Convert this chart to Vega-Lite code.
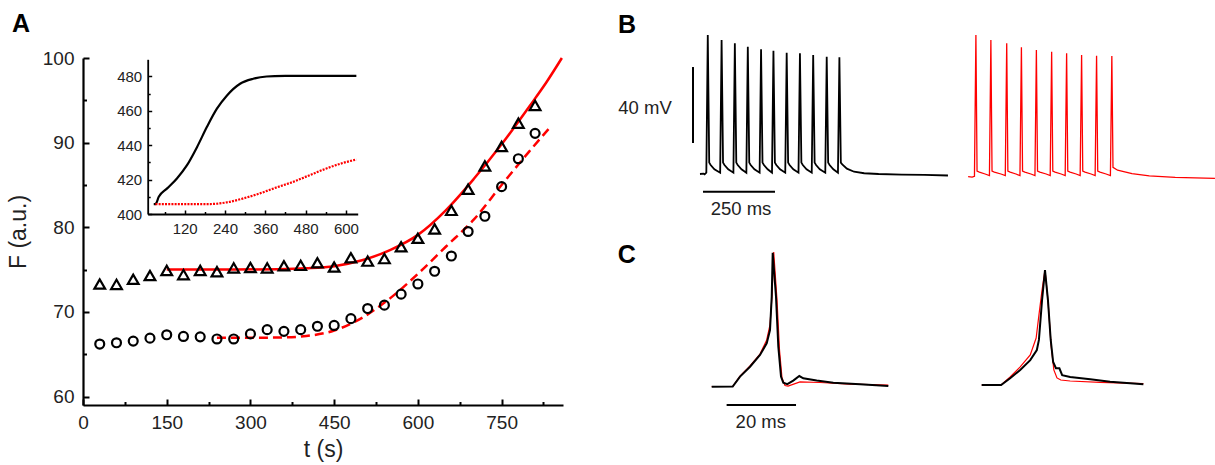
{
  "$schema": "https://vega.github.io/schema/vega-lite/v6.json",
  "width": 1215,
  "height": 465,
  "autosize": {"type": "none"},
  "padding": 0,
  "background": "white",
  "config": {
    "font": "Liberation Sans",
    "view": {"stroke": null},
    "axis": {"grid": false, "domainColor": "black", "tickColor": "black", "labelColor": "#222", "titleColor": "#222", "titleFontWeight": "normal", "labelFont": "Liberation Sans", "titleFont": "Liberation Sans"}
  },
  "datasets": {
    "fluor_tri": [
      {"t": 30, "F": 73.3}, {"t": 60, "F": 73.25}, {"t": 90, "F": 73.85}, {"t": 120, "F": 74.3}, {"t": 150, "F": 74.9},
      {"t": 180, "F": 74.4}, {"t": 210, "F": 74.9}, {"t": 240, "F": 74.75}, {"t": 270, "F": 75.2}, {"t": 300, "F": 75.25},
      {"t": 330, "F": 75.2}, {"t": 360, "F": 75.45}, {"t": 390, "F": 75.5}, {"t": 420, "F": 75.8}, {"t": 450, "F": 75.3},
      {"t": 480, "F": 76.4}, {"t": 510, "F": 76.0}, {"t": 540, "F": 76.3}, {"t": 570, "F": 77.7}, {"t": 600, "F": 78.7},
      {"t": 630, "F": 79.8}, {"t": 660, "F": 82.0}, {"t": 690, "F": 84.5}, {"t": 720, "F": 87.25}, {"t": 750, "F": 89.55},
      {"t": 780, "F": 92.3}, {"t": 810, "F": 94.4}
    ],
    "fluor_circ": [
      {"t": 30, "F": 66.2}, {"t": 60, "F": 66.35}, {"t": 90, "F": 66.55}, {"t": 120, "F": 66.9}, {"t": 150, "F": 67.3},
      {"t": 180, "F": 67.1}, {"t": 210, "F": 67.05}, {"t": 240, "F": 66.8}, {"t": 270, "F": 66.8}, {"t": 300, "F": 67.4},
      {"t": 330, "F": 67.9}, {"t": 360, "F": 67.7}, {"t": 390, "F": 67.9}, {"t": 420, "F": 68.3}, {"t": 450, "F": 68.4},
      {"t": 480, "F": 69.2}, {"t": 510, "F": 70.4}, {"t": 540, "F": 70.8}, {"t": 570, "F": 72.1}, {"t": 600, "F": 73.3},
      {"t": 630, "F": 74.8}, {"t": 660, "F": 76.6}, {"t": 690, "F": 79.5}, {"t": 720, "F": 81.3}, {"t": 750, "F": 84.8},
      {"t": 780, "F": 88.1}, {"t": 810, "F": 91.1}
    ],
    "fit_solid": [
      {"t": 150, "F": 75.0}, {"t": 250, "F": 75.0}, {"t": 350, "F": 75.05}, {"t": 400, "F": 75.15}, {"t": 450, "F": 75.4},
      {"t": 500, "F": 76.1}, {"t": 550, "F": 77.3}, {"t": 600, "F": 79.1}, {"t": 650, "F": 82.0}, {"t": 700, "F": 85.7},
      {"t": 750, "F": 89.8}, {"t": 800, "F": 94.3}, {"t": 830, "F": 97.1}, {"t": 858, "F": 100}
    ],
    "fit_dashed": [
      {"t": 240, "F": 66.95}, {"t": 300, "F": 66.95}, {"t": 350, "F": 66.97}, {"t": 400, "F": 67.15}, {"t": 450, "F": 67.8},
      {"t": 500, "F": 69.3}, {"t": 550, "F": 71.6}, {"t": 600, "F": 74.5}, {"t": 650, "F": 77.7}, {"t": 700, "F": 80.9},
      {"t": 750, "F": 85.0}, {"t": 800, "F": 89.0}, {"t": 834, "F": 91.6}
    ],
    "inset_black": [
      {"t": 28, "F": 405.8}, {"t": 33, "F": 405.8}, {"t": 43, "F": 410}, {"t": 68, "F": 414.9}, {"t": 97, "F": 420.7},
      {"t": 127, "F": 428.4}, {"t": 157, "F": 439}, {"t": 186, "F": 450.6}, {"t": 216, "F": 461.3}, {"t": 246, "F": 469},
      {"t": 285, "F": 475.8}, {"t": 324, "F": 478.7}, {"t": 364, "F": 480}, {"t": 420, "F": 480.3}, {"t": 500, "F": 480.4},
      {"t": 631, "F": 480.4}
    ],
    "inset_red": [
      {"t": 33, "F": 405.8}, {"t": 100, "F": 405.8}, {"t": 196, "F": 405.8}, {"t": 246, "F": 406.8}, {"t": 295, "F": 409.1},
      {"t": 344, "F": 412}, {"t": 394, "F": 415.5}, {"t": 443, "F": 418.7}, {"t": 492, "F": 422.6}, {"t": 542, "F": 426.5},
      {"t": 591, "F": 429.7}, {"t": 631, "F": 431.7}
    ],
    "trainB": [
      {"t_ms": 0, "mV": -65, "source": "recorded"}, {"t_ms": 12, "mV": -64.8, "source": "recorded"}, {"t_ms": 16, "mV": -65.2, "source": "recorded"},
      {"t_ms": 22, "mV": -64.3, "source": "recorded"}, {"t_ms": 27, "mV": 8.2, "source": "recorded"}, {"t_ms": 32, "mV": -59, "source": "recorded"},
      {"t_ms": 37, "mV": -60.3, "source": "recorded"}, {"t_ms": 50, "mV": -62.5, "source": "recorded"}, {"t_ms": 70, "mV": -64.3, "source": "recorded"},
      {"t_ms": 75, "mV": 5.5, "source": "recorded"}, {"t_ms": 80, "mV": -59, "source": "recorded"}, {"t_ms": 85, "mV": -60.3, "source": "recorded"},
      {"t_ms": 98, "mV": -62.5, "source": "recorded"}, {"t_ms": 116, "mV": -64.3, "source": "recorded"}, {"t_ms": 121, "mV": 3.8, "source": "recorded"},
      {"t_ms": 126, "mV": -59, "source": "recorded"}, {"t_ms": 131, "mV": -60.3, "source": "recorded"}, {"t_ms": 144, "mV": -62.5, "source": "recorded"},
      {"t_ms": 161, "mV": -64.3, "source": "recorded"}, {"t_ms": 166, "mV": 2.0, "source": "recorded"}, {"t_ms": 171, "mV": -59, "source": "recorded"},
      {"t_ms": 176, "mV": -60.3, "source": "recorded"}, {"t_ms": 189, "mV": -62.5, "source": "recorded"}, {"t_ms": 207, "mV": -64.3, "source": "recorded"},
      {"t_ms": 212, "mV": 0.6, "source": "recorded"}, {"t_ms": 217, "mV": -59, "source": "recorded"}, {"t_ms": 222, "mV": -60.3, "source": "recorded"},
      {"t_ms": 235, "mV": -62.5, "source": "recorded"}, {"t_ms": 250, "mV": -64.3, "source": "recorded"}, {"t_ms": 255, "mV": -0.1, "source": "recorded"},
      {"t_ms": 260, "mV": -59, "source": "recorded"}, {"t_ms": 265, "mV": -60.3, "source": "recorded"}, {"t_ms": 278, "mV": -62.5, "source": "recorded"},
      {"t_ms": 296, "mV": -64.3, "source": "recorded"}, {"t_ms": 301, "mV": -1.2, "source": "recorded"}, {"t_ms": 306, "mV": -59, "source": "recorded"},
      {"t_ms": 311, "mV": -60.3, "source": "recorded"}, {"t_ms": 324, "mV": -62.5, "source": "recorded"}, {"t_ms": 342, "mV": -64.3, "source": "recorded"},
      {"t_ms": 347, "mV": -1.5, "source": "recorded"}, {"t_ms": 352, "mV": -59, "source": "recorded"}, {"t_ms": 357, "mV": -60.3, "source": "recorded"},
      {"t_ms": 370, "mV": -62.5, "source": "recorded"}, {"t_ms": 388, "mV": -64.3, "source": "recorded"}, {"t_ms": 393, "mV": -2.4, "source": "recorded"},
      {"t_ms": 398, "mV": -59, "source": "recorded"}, {"t_ms": 403, "mV": -60.3, "source": "recorded"}, {"t_ms": 416, "mV": -62.5, "source": "recorded"},
      {"t_ms": 435, "mV": -64.3, "source": "recorded"}, {"t_ms": 440, "mV": -3.3, "source": "recorded"}, {"t_ms": 445, "mV": -59, "source": "recorded"},
      {"t_ms": 450, "mV": -60.3, "source": "recorded"}, {"t_ms": 463, "mV": -62.5, "source": "recorded"}, {"t_ms": 479, "mV": -64.3, "source": "recorded"},
      {"t_ms": 484, "mV": -3.6, "source": "recorded"}, {"t_ms": 489, "mV": -59, "source": "recorded"}, {"t_ms": 494, "mV": -60, "source": "recorded"},
      {"t_ms": 510, "mV": -62.2, "source": "recorded"}, {"t_ms": 535, "mV": -63.8, "source": "recorded"}, {"t_ms": 570, "mV": -64.6, "source": "recorded"},
      {"t_ms": 620, "mV": -65, "source": "recorded"}, {"t_ms": 700, "mV": -65.3, "source": "recorded"}, {"t_ms": 780, "mV": -65.5, "source": "recorded"},
      {"t_ms": 861, "mV": -65.8, "source": "recorded"},
      {"t_ms": 931, "mV": -66.4, "source": "simulated"}, {"t_ms": 945, "mV": -66.6, "source": "simulated"}, {"t_ms": 953, "mV": -66.2, "source": "simulated"},
      {"t_ms": 958, "mV": 8.2, "source": "simulated"}, {"t_ms": 962, "mV": -63.5, "source": "simulated"}, {"t_ms": 970, "mV": -64, "source": "simulated"},
      {"t_ms": 990, "mV": -65, "source": "simulated"}, {"t_ms": 1005, "mV": -65.8, "source": "simulated"}, {"t_ms": 1010, "mV": 5.5, "source": "simulated"},
      {"t_ms": 1014, "mV": -63.5, "source": "simulated"}, {"t_ms": 1022, "mV": -64, "source": "simulated"}, {"t_ms": 1045, "mV": -65, "source": "simulated"},
      {"t_ms": 1060, "mV": -65.8, "source": "simulated"}, {"t_ms": 1065, "mV": 3.8, "source": "simulated"}, {"t_ms": 1069, "mV": -63.5, "source": "simulated"},
      {"t_ms": 1077, "mV": -64, "source": "simulated"}, {"t_ms": 1097, "mV": -65, "source": "simulated"}, {"t_ms": 1111, "mV": -65.8, "source": "simulated"},
      {"t_ms": 1116, "mV": 1.7, "source": "simulated"}, {"t_ms": 1120, "mV": -63.5, "source": "simulated"}, {"t_ms": 1128, "mV": -64, "source": "simulated"},
      {"t_ms": 1149, "mV": -65, "source": "simulated"}, {"t_ms": 1163, "mV": -65.8, "source": "simulated"}, {"t_ms": 1168, "mV": 0.3, "source": "simulated"},
      {"t_ms": 1172, "mV": -63.5, "source": "simulated"}, {"t_ms": 1180, "mV": -64, "source": "simulated"}, {"t_ms": 1202, "mV": -65, "source": "simulated"},
      {"t_ms": 1216, "mV": -65.8, "source": "simulated"}, {"t_ms": 1221, "mV": -0.6, "source": "simulated"}, {"t_ms": 1225, "mV": -63.5, "source": "simulated"},
      {"t_ms": 1233, "mV": -64, "source": "simulated"}, {"t_ms": 1254, "mV": -65, "source": "simulated"}, {"t_ms": 1268, "mV": -65.8, "source": "simulated"},
      {"t_ms": 1273, "mV": -1.5, "source": "simulated"}, {"t_ms": 1277, "mV": -63.5, "source": "simulated"}, {"t_ms": 1285, "mV": -64, "source": "simulated"},
      {"t_ms": 1306, "mV": -65, "source": "simulated"}, {"t_ms": 1320, "mV": -65.8, "source": "simulated"}, {"t_ms": 1325, "mV": -2.4, "source": "simulated"},
      {"t_ms": 1329, "mV": -63.5, "source": "simulated"}, {"t_ms": 1337, "mV": -64, "source": "simulated"}, {"t_ms": 1358, "mV": -65, "source": "simulated"},
      {"t_ms": 1372, "mV": -65.8, "source": "simulated"}, {"t_ms": 1377, "mV": -2.8, "source": "simulated"}, {"t_ms": 1381, "mV": -63.5, "source": "simulated"},
      {"t_ms": 1389, "mV": -64, "source": "simulated"}, {"t_ms": 1410, "mV": -65, "source": "simulated"}, {"t_ms": 1425, "mV": -65.8, "source": "simulated"},
      {"t_ms": 1430, "mV": -2.9, "source": "simulated"}, {"t_ms": 1434, "mV": -61.5, "source": "simulated"}, {"t_ms": 1450, "mV": -63, "source": "simulated"},
      {"t_ms": 1500, "mV": -64.8, "source": "simulated"}, {"t_ms": 1560, "mV": -66, "source": "simulated"}, {"t_ms": 1650, "mV": -66.8, "source": "simulated"},
      {"t_ms": 1788, "mV": -67.3, "source": "simulated"}
    ],
    "apC": [
      {"t_ms": 0, "mV": -65, "source": "simulated", "cell": "left"}, {"t_ms": 6.05, "mV": -65, "source": "simulated", "cell": "left"},
      {"t_ms": 8.16, "mV": -59.5, "source": "simulated", "cell": "left"}, {"t_ms": 11.04, "mV": -54.2, "source": "simulated", "cell": "left"},
      {"t_ms": 13.92, "mV": -47.9, "source": "simulated", "cell": "left"}, {"t_ms": 15.85, "mV": -40.5, "source": "simulated", "cell": "left"},
      {"t_ms": 16.8, "mV": -32.6, "source": "simulated", "cell": "left"}, {"t_ms": 17.4, "mV": -16.8, "source": "simulated", "cell": "left"},
      {"t_ms": 17.87, "mV": 5.8, "source": "simulated", "cell": "left"}, {"t_ms": 18.82, "mV": -19.5, "source": "simulated", "cell": "left"},
      {"t_ms": 19.54, "mV": -45.8, "source": "simulated", "cell": "left"}, {"t_ms": 20.26, "mV": -60.5, "source": "simulated", "cell": "left"},
      {"t_ms": 21.12, "mV": -64.5, "source": "simulated", "cell": "left"}, {"t_ms": 22.0, "mV": -64.8, "source": "simulated", "cell": "left"},
      {"t_ms": 25.45, "mV": -62.6, "source": "simulated", "cell": "left"}, {"t_ms": 31.2, "mV": -62.9, "source": "simulated", "cell": "left"},
      {"t_ms": 39.86, "mV": -63.7, "source": "simulated", "cell": "left"}, {"t_ms": 50.9, "mV": -64.2, "source": "simulated", "cell": "left"},
      {"t_ms": 77.8, "mV": -64.2, "source": "simulated", "cell": "right"}, {"t_ms": 83.4, "mV": -64.2, "source": "simulated", "cell": "right"},
      {"t_ms": 86.0, "mV": -60, "source": "simulated", "cell": "right"}, {"t_ms": 88.9, "mV": -54.7, "source": "simulated", "cell": "right"},
      {"t_ms": 91.8, "mV": -48.4, "source": "simulated", "cell": "right"}, {"t_ms": 93.5, "mV": -39.5, "source": "simulated", "cell": "right"},
      {"t_ms": 94.3, "mV": -27.4, "source": "simulated", "cell": "right"}, {"t_ms": 95.2, "mV": -14.2, "source": "simulated", "cell": "right"},
      {"t_ms": 96.05, "mV": -3.7, "source": "simulated", "cell": "right"}, {"t_ms": 96.9, "mV": -19.5, "source": "simulated", "cell": "right"},
      {"t_ms": 97.8, "mV": -43.2, "source": "simulated", "cell": "right"}, {"t_ms": 98.6, "mV": -56.3, "source": "simulated", "cell": "right"},
      {"t_ms": 99.5, "mV": -60.5, "source": "simulated", "cell": "right"}, {"t_ms": 100.6, "mV": -61.6, "source": "simulated", "cell": "right"},
      {"t_ms": 103.3, "mV": -62.1, "source": "simulated", "cell": "right"}, {"t_ms": 111.9, "mV": -62.8, "source": "simulated", "cell": "right"},
      {"t_ms": 124.4, "mV": -63.5, "source": "simulated", "cell": "right"},
      {"t_ms": 0, "mV": -65.1, "source": "recorded", "cell": "left"}, {"t_ms": 6.05, "mV": -65, "source": "recorded", "cell": "left"},
      {"t_ms": 8.16, "mV": -59.8, "source": "recorded", "cell": "left"}, {"t_ms": 11.04, "mV": -54.6, "source": "recorded", "cell": "left"},
      {"t_ms": 13.92, "mV": -48.4, "source": "recorded", "cell": "left"}, {"t_ms": 15.85, "mV": -42.3, "source": "recorded", "cell": "left"},
      {"t_ms": 16.8, "mV": -35.3, "source": "recorded", "cell": "left"}, {"t_ms": 17.3, "mV": -17.7, "source": "recorded", "cell": "left"},
      {"t_ms": 17.58, "mV": 5.4, "source": "recorded", "cell": "left"}, {"t_ms": 18.53, "mV": -17.7, "source": "recorded", "cell": "left"},
      {"t_ms": 19.2, "mV": -44.1, "source": "recorded", "cell": "left"}, {"t_ms": 19.97, "mV": -59.8, "source": "recorded", "cell": "left"},
      {"t_ms": 20.63, "mV": -63, "source": "recorded", "cell": "left"}, {"t_ms": 21.79, "mV": -63.8, "source": "recorded", "cell": "left"},
      {"t_ms": 23.5, "mV": -61.9, "source": "recorded", "cell": "left"}, {"t_ms": 25.25, "mV": -59.5, "source": "recorded", "cell": "left"},
      {"t_ms": 26.4, "mV": -60.7, "source": "recorded", "cell": "left"}, {"t_ms": 30.26, "mV": -61.9, "source": "recorded", "cell": "left"},
      {"t_ms": 35.04, "mV": -63, "source": "recorded", "cell": "left"}, {"t_ms": 42.74, "mV": -63.8, "source": "recorded", "cell": "left"},
      {"t_ms": 50.9, "mV": -64.7, "source": "recorded", "cell": "left"},
      {"t_ms": 77.8, "mV": -64.2, "source": "recorded", "cell": "right"}, {"t_ms": 83.4, "mV": -64.2, "source": "recorded", "cell": "right"},
      {"t_ms": 86.0, "mV": -60.7, "source": "recorded", "cell": "right"}, {"t_ms": 88.9, "mV": -56.3, "source": "recorded", "cell": "right"},
      {"t_ms": 91.8, "mV": -51.1, "source": "recorded", "cell": "right"}, {"t_ms": 93.7, "mV": -45.8, "source": "recorded", "cell": "right"},
      {"t_ms": 94.3, "mV": -40.5, "source": "recorded", "cell": "right"}, {"t_ms": 95.2, "mV": -19.5, "source": "recorded", "cell": "right"},
      {"t_ms": 96.05, "mV": -3.7, "source": "recorded", "cell": "right"}, {"t_ms": 96.9, "mV": -19.5, "source": "recorded", "cell": "right"},
      {"t_ms": 97.7, "mV": -40.5, "source": "recorded", "cell": "right"}, {"t_ms": 98.4, "mV": -52.1, "source": "recorded", "cell": "right"},
      {"t_ms": 99.2, "mV": -55.4, "source": "recorded", "cell": "right"}, {"t_ms": 100.2, "mV": -55.4, "source": "recorded", "cell": "right"},
      {"t_ms": 101, "mV": -59, "source": "recorded", "cell": "right"}, {"t_ms": 103.3, "mV": -60, "source": "recorded", "cell": "right"},
      {"t_ms": 109.1, "mV": -61.2, "source": "recorded", "cell": "right"}, {"t_ms": 114.8, "mV": -62.5, "source": "recorded", "cell": "right"},
      {"t_ms": 120.6, "mV": -63.3, "source": "recorded", "cell": "right"}, {"t_ms": 124.4, "mV": -63.8, "source": "recorded", "cell": "right"}
    ]
  },
  "layer": [
    {
      "encoding": {
        "x": {"field": "t", "type": "quantitative",
          "scale": {"domain": [0, 860], "range": [83, 563], "nice": false, "zero": false},
          "axis": {"orient": "bottom", "offset": -60, "values": [0, 75, 150, 225, 300, 375, 450, 525, 600, 675, 750, 825],
            "labelExpr": "datum.value % 150 === 0 ? datum.label : ''",
            "tickSize": {"condition": {"test": "datum.value % 150 === 0", "value": -6}, "value": -3.5},
            "labelPadding": 14, "labelFontSize": 19, "labelFlush": false, "labelOverlap": false,
            "domainWidth": 2.2, "tickWidth": 2, "title": "t (s)", "titleFontSize": 23, "titlePadding": 4}},
        "y": {"field": "F", "type": "quantitative",
          "scale": {"domain": [59, 100], "range": [405, 58], "nice": false, "zero": false},
          "axis": {"orient": "left", "offset": -83, "values": [60, 65, 70, 75, 80, 85, 90, 95, 100],
            "labelExpr": "datum.value % 10 === 0 ? datum.label : ''",
            "tickSize": {"condition": {"test": "datum.value % 10 === 0", "value": -6}, "value": -3.5},
            "labelPadding": 15, "labelFontSize": 19, "labelOverlap": false,
            "domainWidth": 2.2, "tickWidth": 2, "title": "F (a.u.)", "titleFontSize": 23, "titlePadding": 12}}
      },
      "layer": [
        {"data": {"name": "fit_solid"}, "mark": {"type": "line", "color": "red", "strokeWidth": 2.5, "interpolate": "monotone"}},
        {"data": {"name": "fit_dashed"}, "mark": {"type": "line", "color": "red", "strokeWidth": 2.5, "strokeDash": [9, 5], "interpolate": "monotone"}},
        {"data": {"name": "fluor_tri"}, "mark": {"type": "point", "shape": "triangle-up", "size": 115, "color": "black", "strokeWidth": 2.2, "filled": false, "opacity": 1}},
        {"data": {"name": "fluor_circ"}, "mark": {"type": "point", "shape": "circle", "size": 80, "color": "black", "strokeWidth": 2.2, "filled": false, "opacity": 1}},
        {"data": {"values": [{"t": -111, "F": 104, "label": "A"}]}, "mark": {"type": "text", "fontSize": 25, "fontWeight": "bold", "align": "center", "baseline": "middle", "color": "black"}, "encoding": {"text": {"field": "label"}}}
      ]
    },
    {
      "encoding": {
        "x": {"field": "t", "type": "quantitative",
          "scale": {"domain": [10, 635], "range": [147.7, 357.7], "nice": false, "zero": false},
          "axis": {"orient": "bottom", "offset": -251, "values": [60, 120, 180, 240, 300, 360, 420, 480, 540, 600],
            "labelExpr": "datum.value % 120 === 0 ? datum.label : ''",
            "tickSize": {"condition": {"test": "datum.value % 120 === 0", "value": -4}, "value": -2.5},
            "labelPadding": 11, "labelFontSize": 15, "labelFlush": false, "labelOverlap": false,
            "domainWidth": 1.8, "tickWidth": 1.5, "title": null}},
        "y": {"field": "F", "type": "quantitative",
          "scale": {"domain": [400, 490], "range": [214, 59.3], "nice": false, "zero": false},
          "axis": {"orient": "left", "offset": -147.7, "values": [400, 410, 420, 430, 440, 450, 460, 470, 480],
            "labelExpr": "datum.value % 20 === 0 ? datum.label : ''",
            "tickSize": {"condition": {"test": "datum.value % 20 === 0", "value": -4}, "value": -2.5},
            "labelPadding": 10, "labelFontSize": 15, "labelOverlap": false,
            "domainWidth": 1.8, "tickWidth": 1.5, "title": null}}
      },
      "layer": [
        {"data": {"name": "inset_black"}, "mark": {"type": "line", "color": "black", "strokeWidth": 2.2, "interpolate": "monotone"}},
        {"data": {"name": "inset_red"}, "mark": {"type": "line", "color": "red", "strokeWidth": 2.2, "strokeDash": [2, 1.2], "interpolate": "monotone"}}
      ]
    },
    {
      "encoding": {
        "x": {"field": "t_ms", "type": "quantitative", "scale": {"domain": [-300, 1800], "range": [613.6, 1218.4], "nice": false, "zero": false}, "axis": null},
        "y": {"field": "mV", "type": "quantitative", "scale": {"domain": [-90, 20], "range": [221.5, 12.5], "nice": false, "zero": false}, "axis": null}
      },
      "layer": [
        {"data": {"name": "trainB"}, "transform": [{"filter": "datum.source === 'recorded'"}], "mark": {"type": "line", "color": "black", "strokeWidth": 1.8}},
        {"data": {"name": "trainB"}, "transform": [{"filter": "datum.source === 'simulated'"}], "mark": {"type": "line", "color": "red", "strokeWidth": 1.3}},
        {"data": {"values": [{"t_ms": -24.3, "mV": -48.7, "mV_end": -8.7}]}, "mark": {"type": "rule", "color": "black", "strokeWidth": 2}, "encoding": {"y2": {"field": "mV_end"}}},
        {"data": {"values": [{"t_ms": 10.4, "t_ms_end": 260.4, "mV": -74.3}]}, "mark": {"type": "rule", "color": "black", "strokeWidth": 2}, "encoding": {"x2": {"field": "t_ms_end"}}},
        {"data": {"values": [{"t_ms": -191, "mV": -30.3, "label": "40 mV"}, {"t_ms": 142.4, "mV": -83.2, "label": "250 ms"}]}, "mark": {"type": "text", "fontSize": 18.5, "align": "center", "baseline": "middle", "color": "#222"}, "encoding": {"text": {"field": "label"}}},
        {"data": {"values": [{"t_ms": -253.5, "mV": 13.4, "label": "B"}]}, "mark": {"type": "text", "fontSize": 25, "fontWeight": "bold", "align": "center", "baseline": "middle", "color": "black"}, "encoding": {"text": {"field": "label"}}}
      ]
    },
    {
      "encoding": {
        "x": {"field": "t_ms", "type": "quantitative", "scale": {"domain": [-30, 150], "range": [607.6, 1232.2], "nice": false, "zero": false}, "axis": null},
        "y": {"field": "mV", "type": "quantitative", "scale": {"domain": [-90, 15], "range": [434, 234.5], "nice": false, "zero": false}, "axis": null}
      },
      "layer": [
        {"data": {"name": "apC"}, "transform": [{"filter": "datum.source === 'simulated'"}], "mark": {"type": "line", "color": "red", "strokeWidth": 1.2}, "encoding": {"detail": {"field": "cell"}}},
        {"data": {"name": "apC"}, "transform": [{"filter": "datum.source === 'recorded'"}], "mark": {"type": "line", "color": "black", "strokeWidth": 2}, "encoding": {"detail": {"field": "cell"}}},
        {"data": {"values": [{"t_ms": 4.3, "t_ms_end": 24.3, "mV": -74.7}]}, "mark": {"type": "rule", "color": "black", "strokeWidth": 2}, "encoding": {"x2": {"field": "t_ms_end"}}},
        {"data": {"values": [{"t_ms": 14.15, "mV": -83.9, "label": "20 ms"}]}, "mark": {"type": "text", "fontSize": 18.5, "align": "center", "baseline": "middle", "color": "#222"}, "encoding": {"text": {"field": "label"}}},
        {"data": {"values": [{"t_ms": -24.5, "mV": 4.2, "label": "C"}]}, "mark": {"type": "text", "fontSize": 25, "fontWeight": "bold", "align": "center", "baseline": "middle", "color": "black"}, "encoding": {"text": {"field": "label"}}}
      ]
    }
  ],
  "resolve": {"scale": {"x": "independent", "y": "independent"}}
}
